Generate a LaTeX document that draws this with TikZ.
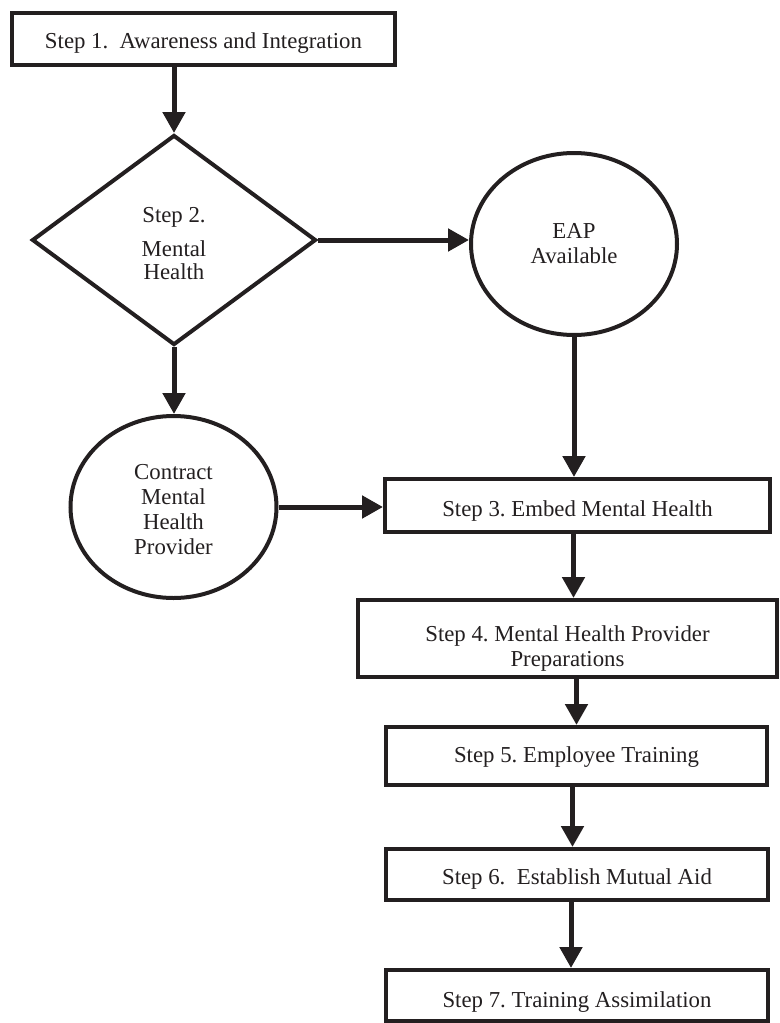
\documentclass[tikz,border=0pt]{standalone}
\usepackage{fontspec}
\setmainfont{Liberation Serif}
\frenchspacing
\usetikzlibrary{shapes.geometric,arrows.meta}
\definecolor{ink}{HTML}{231F20}
\begin{document}
\begin{tikzpicture}[x=0.5pt,y=-0.5pt,
  every node/.style={font=\fontsize{11.4pt}{12.5pt}\selectfont, text=ink, align=center, inner sep=0pt},
  stepbox/.style={draw=ink, line width=2pt, rectangle},
  txt/.style={text height=#1, text depth=2.5pt},
  decision/.style={draw=ink, line width=2pt, diamond},
  oval/.style={draw=ink, line width=2pt, ellipse, minimum width=103pt, minimum height=91pt},
  arr/.style={draw=ink, line width=2.5pt, -{Triangle[length=10.5pt,width=11pt]}}
]
\useasboundingbox (0,0) rectangle (780,1023);

\node[stepbox, txt=12.1pt, minimum width=191.5pt, minimum height=26pt] (s1) at (203.5,39) {Step 1.\ \ Awareness and Integration};
\node[decision, minimum width=142pt, minimum height=105pt,
  label={[name=diatext, align=center, yshift=-1.75pt]center:Step 2.\\[4.5pt]Mental\\[-0.7pt]Health}] (dia) at (174,240) {};
\node[oval] (eap) at (574,244) {EAP\\Available};
\node[oval, label={[name=context, align=center, yshift=-1.25pt]center:Contract\\Mental\\Health\\Provider}] (con) at (173.5,507) {};
\node[stepbox, txt=13.6pt, minimum width=192.5pt, minimum height=26.5pt] (s3) at (577.5,505.5) {Step 3. Embed Mental Health};
\node[stepbox, minimum width=209.5pt, minimum height=38.5pt,
  label={[name=s4text, align=center, yshift=-5pt]center:Step 4. Mental Health Provider\\Preparations}] (s4) at (567.5,638.5) {};
\node[stepbox, txt=9.1pt, minimum width=190.5pt, minimum height=29pt] (s5) at (576.5,756) {Step 5. Employee Training};
\node[stepbox, txt=12.3pt, minimum width=191pt, minimum height=25.5pt] (s6) at (577,874.5) {Step 6.\ \ Establish Mutual Aid};
\node[stepbox, txt=14.6pt, minimum width=191pt, minimum height=25.5pt] (s7) at (577,995.5) {Step 7. Training Assimilation};

\draw[arr] (s1.south -| dia.north) -- (dia.north);
\draw[arr] (dia.east) -- (dia.east -| eap.west);
\draw[arr] (eap.south) -- (eap.south |- s3.north);
\draw[arr] (dia.south) -- (dia.south |- con.north);
\draw[arr] (con.east) -- (con.east -| s3.west);
\draw[arr] ([xshift=-2pt]s3.south) -- ([xshift=-2pt]s3.south |- s4.north);
\draw[arr] (s5.north |- s4.south) -- (s5.north);
\draw[arr] ([xshift=-2pt]s5.south) -- ([xshift=-2pt]s5.south |- s6.north);
\draw[arr] ([xshift=-3pt]s6.south) -- ([xshift=-3pt]s6.south |- s7.north);
\end{tikzpicture}
\end{document}
